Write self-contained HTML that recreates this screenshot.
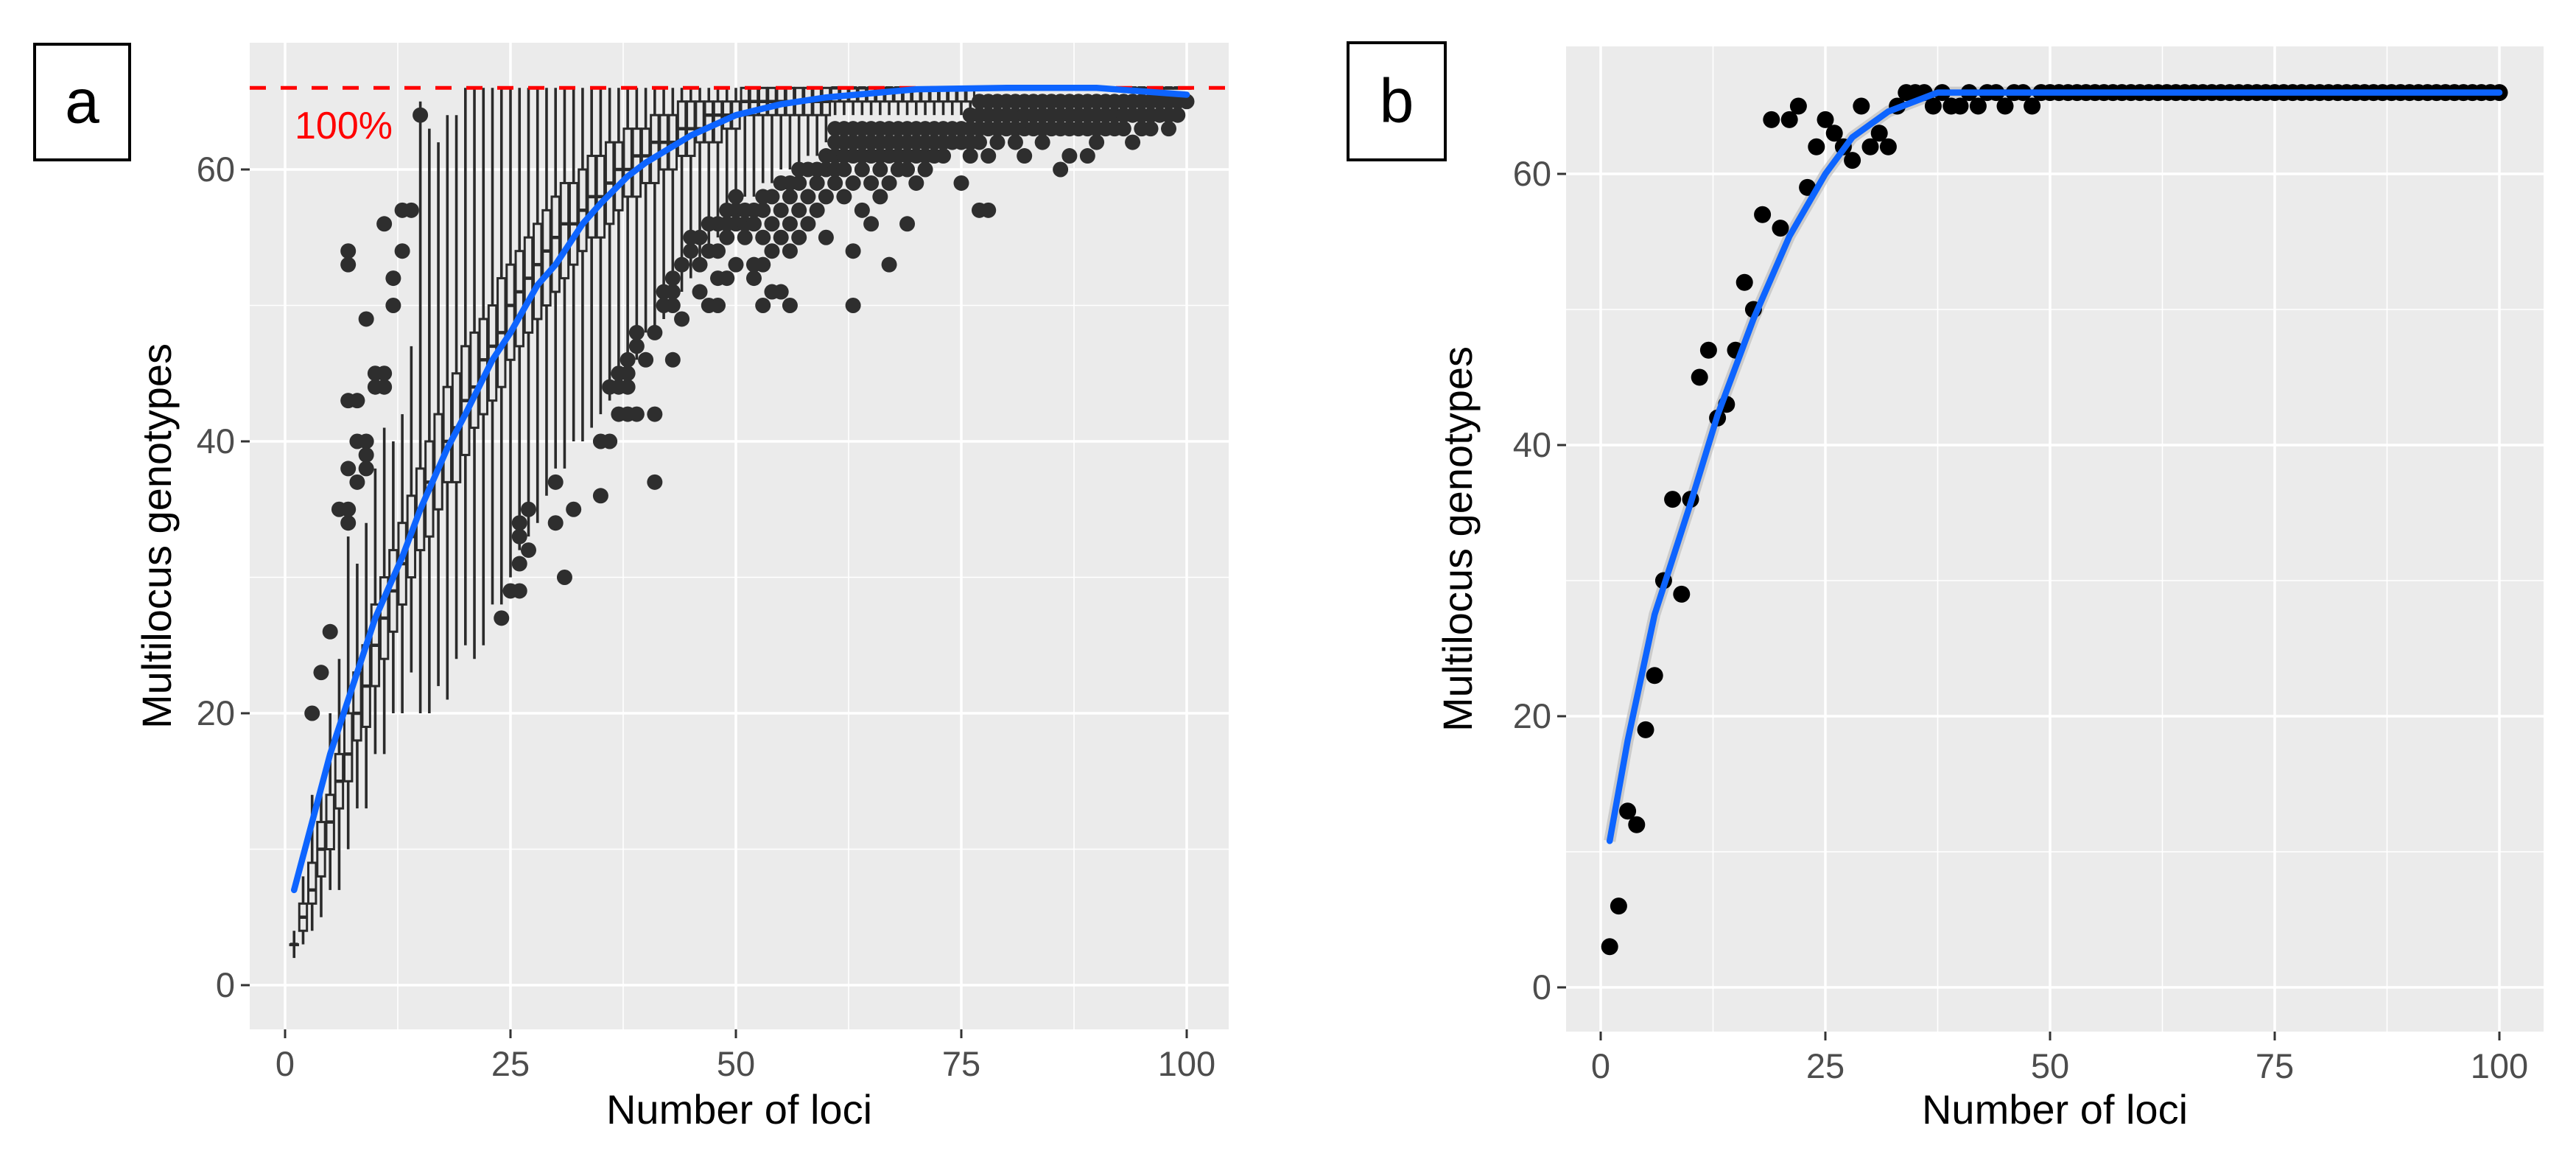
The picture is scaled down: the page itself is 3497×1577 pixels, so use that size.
<!DOCTYPE html>
<html><head><meta charset="utf-8">
<style>
html,body{margin:0;padding:0;background:#fff;}
svg{display:block;font-family:"Liberation Sans",Arial,sans-serif;}
</style></head>
<body>
<svg id="fig" width="3497" height="1577" viewBox="0 0 3497 1577" xmlns="http://www.w3.org/2000/svg">
  <g id="pa"></g>
  <g id="pb"></g>
</svg>
<script>
// ---------- Panel a data ----------
const boxMed = [3,5,7,10,12,15,17,20,22,25,27,29,31,33,35,37,38,40,41,43,44,46,47,48,50,51,52,53,54,55,56,56,57,58,58,59,60,60,61,61,62,62,62,63,63,63,64,64,64,64,
65,65,65,65,65,65,65,65,65,65,66,66,66,66,66,66,66,66,66,66,66,66,66,66,66,66,66,66,66,66,66,66,66,66,66,66,66,66,66,66,66,66,66,66,66,66,66,66,66,66];
const boxQ1 = [3,4,6,8,10,13,15,18,19,22,24,26,28,30,32,33,35,37,37,39,41,42,43,44,46,47,48,49,50,51,52,53,54,55,55,56,57,58,58,59,59,60,60,61,61,62,62,62,63,63,
64,64,64,64,64,64,64,64,64,64,65,65,65,65,65,65,65,65,65,65,65,65,65,65,65,65,66,66,66,66,66,66,66,66,66,66,66,66,66,66,66,66,66,66,66,66,66,66,66,66];
const boxQ3 = [3,6,9,12,14,17,20,23,25,28,30,32,34,36,38,40,42,44,45,47,48,49,50,52,53,54,55,56,57,58,59,59,60,61,61,62,62,63,63,63,64,64,64,65,65,65,65,65,65,65,
66,66,66,66,66,66,66,66,66,66,66,66,66,66,66,66,66,66,66,66,66,66,66,66,66,66,66,66,66,66,66,66,66,66,66,66,66,66,66,66,66,66,66,66,66,66,66,66,66,66];
const boxLo = [2,3,4,5,7,7,10,13,13,17,17,20,20,23,20,20,22,21,24,25,24,25,28,28,30,32,33,34,36,38,38,40,40,41,42,43,44,45,46,48,48,49,50,51,52,53,54,55,56,57,
58,58,59,59,60,60,60,61,61,62,64,64,64,64,64,64,64,64,64,64,64,64,64,64,64,64,66,66,66,66,66,66,66,66,66,66,66,66,66,66,66,66,66,66,66,66,66,66,66,66];
const boxHi = [4,8,14,14,20,24,33,31,34,38,41,40,42,47,65,63,62,64,64,66,66,66,66,66,66,66,66,66,66,66,66,66,66,66,66,66,66,66,66,66,66,66,66,66,66,66,66,66,66,66,
66,66,66,66,66,66,66,66,66,66,66,66,66,66,66,66,66,66,66,66,66,66,66,66,66,66,66,66,66,66,66,66,66,66,66,66,66,66,66,66,66,66,66,66,66,66,66,66,66,66];
const outlierVals = [[],[],[20],[23],[26],[35],[34,35,38,43,53,54],[37,40,43],[38,39,40,49],[44,45],
[44,45,56],[50,52],[54,57],[57],[64],[],[],[],[],[],
[],[],[],[27],[29],[29,31,33,34],[32,35],[],[],[34,37],
[30],[35],[],[],[36,40],[40,44],[42,44,45],[42,44,45,46],[42,47,48],[46],
[37,42,48],[50,51],[46,50,51,52],[49,53],[54,55],[51,53,55],[50,54,56],[50,52,54,56],[52,55,56,57],[53,56,57,58],
[55,56,57],[52,53,56,57],[50,53,55,57,58],[51,54,56,58],[51,55,57,59],[50,54,56,58,59],[55,57,59,60],[56,58,60],[57,59,60],[55,58,60,61],
[59,60,61,62,63],[58,60,61,62,63],[50,54,59,61,62,63],[57,60,61,62,63],[56,59,61,62,63],[58,60,61,62,63],[53,59,61,62,63],[60,61,62,63],[56,60,61,62,63],[59,61,62,63],
[60,61,62,63],[61,62,63],[61,62,63],[62,63],[59,62,63],[61,62,63,64],[57,62,63,64,65],[57,61,63,64,65],[62,63,64,65],[63,64,65],
[62,63,64,65],[61,63,64,65],[63,64,65],[62,63,64,65],[63,64,65],[60,63,64,65],[61,63,64,65],[63,64,65],[61,63,64,65],[62,63,64,65],
[63,64,65],[63,64,65],[63,64,65],[62,64,65],[63,64,65],[63,64,65],[64,65],[63,64,65],[64,65],[65]];
const curveAX = [1,3,5,7,10,13,15,18,20,23,25,28,30,33,35,38,40,45,50,55,60,70,80,90,100];
const curveAY = [7,12,17,21,27,31.5,35,39.5,42,46,48,51.5,53,56,57.5,59.5,60.5,62.5,64,64.8,65.3,65.9,66,66,65.5];
const xTicks = [0,25,50,75,100];
const yTicks = [0,20,40,60];
const refLine = 66;

// ---------- Panel b data ----------
const ptX = [1,2,3,4,5,6,7,8,9,10,11,12,13,14,15,16,17,18,19,20,21,22,23,24,25,26,27,28,29,30,31,32,33,34,35,36,37,38,39,40,41,42,43,44,45,46,47,48,
49,50,51,52,53,54,55,56,57,58,59,60,61,62,63,64,65,66,67,68,69,70,71,72,73,74,75,76,77,78,79,80,81,82,83,84,85,86,87,88,89,90,91,92,93,94,95,96,97,98,99,100];
const ptY = [3,6,13,12,19,23,30,36,29,36,45,47,42,43,47,52,50,57,64,56,64,65,59,62,64,63,62,61,65,62,63,62,65,66,66,66,65,66,65,65,66,65,66,66,65,66,66,65,
66,66,66,66,66,66,66,66,66,66,66,66,66,66,66,66,66,66,66,66,66,66,66,66,66,66,66,66,66,66,66,66,66,66,66,66,66,66,66,66,66,66,66,66,66,66,66,66,66,66,66,66];
const curveBX = [1,3,6,10,13,17,21,25,28,32,37.5,45,60,80,100];
const curveBY = [10.8,18.2,27.5,35.7,42.2,49.3,55.4,60,62.7,64.6,66,66,66,66,66];

const NS = "http://www.w3.org/2000/svg";
function mk(parent, tag, attrs, text){
  const e = document.createElementNS(NS, tag);
  for (const k in attrs) e.setAttribute(k, attrs[k]);
  if (text !== undefined) e.textContent = text;
  parent.appendChild(e);
  return e;
}

function drawFrame(g, P, label, boxRect){
  const sx = v => P.x0 + v * P.kx;
  const sy = v => P.y0 - v * P.ky;
  const bg = mk(g, "rect", {x:P.L, y:P.T, width:P.R-P.L, height:P.B-P.T, fill:"#ebebeb"});
  
  
  [10,30,50].forEach(v=>{
    const l = mk(g,"line",{x1:P.L,x2:P.R,y1:sy(v),y2:sy(v),stroke:"#fff","stroke-width":1.6});
    
    
  });
  [12.5,37.5,62.5,87.5].forEach(v=>{
    const l = mk(g,"line",{x1:sx(v),x2:sx(v),y1:P.T,y2:P.B,stroke:"#fff","stroke-width":1.6});
    
    
  });
  yTicks.forEach(v=>{
    const l = mk(g,"line",{x1:P.L,x2:P.R,y1:sy(v),y2:sy(v),stroke:"#fff","stroke-width":3.5});
    
    
    const t = mk(g,"line",{x1:P.L-12,x2:P.L,y1:sy(v),y2:sy(v),stroke:"#333","stroke-width":3});
    
    
    const tx = mk(g,"text",{x:P.L-20,y:sy(v)+16,"text-anchor":"end","font-size":47,fill:"#4d4d4d"}, String(v));
    
    
  });
  xTicks.forEach(v=>{
    const l = mk(g,"line",{x1:sx(v),x2:sx(v),y1:P.T,y2:P.B,stroke:"#fff","stroke-width":3.5});
    
    
    const t = mk(g,"line",{x1:sx(v),x2:sx(v),y1:P.B,y2:P.B+12,stroke:"#333","stroke-width":3});
    
    
    const tx = mk(g,"text",{x:sx(v),y:P.B+63,"text-anchor":"middle","font-size":47,fill:"#4d4d4d"}, String(v));
    
    
  });
  const xt = mk(g,"text",{x:(P.L+P.R)/2,y:1525,"text-anchor":"middle","font-size":56,fill:"#000"},"Number of loci");
  
  
  const yt = mk(g,"text",{x:0,y:0,"text-anchor":"middle","font-size":56,fill:"#000",transform:`translate(${P.yTitleX},${(P.T+P.B)/2}) rotate(-90)`},"Multilocus genotypes");
  
  
  const br = mk(g,"rect",{x:boxRect[0],y:boxRect[1],width:boxRect[2]-boxRect[0],height:boxRect[3]-boxRect[1],fill:"#fff",stroke:"#000","stroke-width":4});
  
  
  const bl = mk(g,"text",{x:(boxRect[0]+boxRect[2])/2,y:(boxRect[1]+boxRect[3])/2+28,"text-anchor":"middle","font-size":84,fill:"#000"},label);
  
  
  return {sx, sy};
}

// ----- Panel a -----
const PA = {L:339,R:1668,T:58,B:1397,x0:387,kx:12.24,y0:1337,ky:18.45,yTitleX:232};
const ga = document.getElementById("pa");
const A = drawFrame(ga, PA, "a", [47,60,176,217]);
const marksA = mk(ga,"g",{});


const bw = 5.2;
boxMed.forEach((m,i)=>{
  const x = i+1, cx = A.sx(x);
  const w = mk(marksA,"line",{x1:cx,x2:cx,y1:A.sy(boxLo[i]),y2:A.sy(boxHi[i]),stroke:"#2a2a2a","stroke-width":3.6});
  
  
  const b = mk(marksA,"rect",{x:cx-bw,y:A.sy(boxQ3[i]),width:2*bw,height:Math.max(1,A.sy(boxQ1[i])-A.sy(boxQ3[i])),fill:"#e8e8e8",stroke:"#2a2a2a","stroke-width":3});
  
  
  const md = mk(marksA,"line",{x1:cx-bw,x2:cx+bw,y1:A.sy(m),y2:A.sy(m),stroke:"#2a2a2a","stroke-width":4.5});
  
  
});
outlierVals.forEach((arr,i)=>{
  arr.forEach(v=>{
    const c = mk(marksA,"circle",{cx:A.sx(i+1),cy:A.sy(v),r:10.5,fill:"#2e2e2e"});
    
    
  });
});
const rl = mk(ga,"line",{x1:PA.L,x2:PA.R,y1:A.sy(refLine),y2:A.sy(refLine),stroke:"#ff0000","stroke-width":5,"stroke-dasharray":"22 20"});


const rt = mk(ga,"text",{x:400,y:188,"font-size":52,fill:"#ff0000"},"100%");


const ca = mk(ga,"polyline",{points:curveAX.map((x,i)=>A.sx(x)+","+A.sy(curveAY[i])).join(" "),fill:"none",stroke:"#0d64ff","stroke-width":8.5,"stroke-linejoin":"round","stroke-linecap":"round"});



// ----- Panel b -----
const PB = {L:2126,R:3453,T:63,B:1400,x0:2173,kx:12.2,y0:1340,ky:18.4,yTitleX:1998};
const gb = document.getElementById("pb");
const B = drawFrame(gb, PB, "b", [1830,58,1962,217]);
const band = mk(gb,"polyline",{points:curveBX.map((x,i)=>B.sx(x)+","+B.sy(curveBY[i])).join(" "),fill:"none",stroke:"#bdbdbd","stroke-width":16,"stroke-linejoin":"round",opacity:0.7});


ptX.forEach((x,i)=>{
  const c = mk(gb,"circle",{cx:B.sx(x),cy:B.sy(ptY[i]),r:11.5,fill:"#000"});
  
  
});
const cb = mk(gb,"polyline",{points:curveBX.map((x,i)=>B.sx(x)+","+B.sy(curveBY[i])).join(" "),fill:"none",stroke:"#0d64ff","stroke-width":8.5,"stroke-linejoin":"round","stroke-linecap":"round"});


</script>
</body></html>
